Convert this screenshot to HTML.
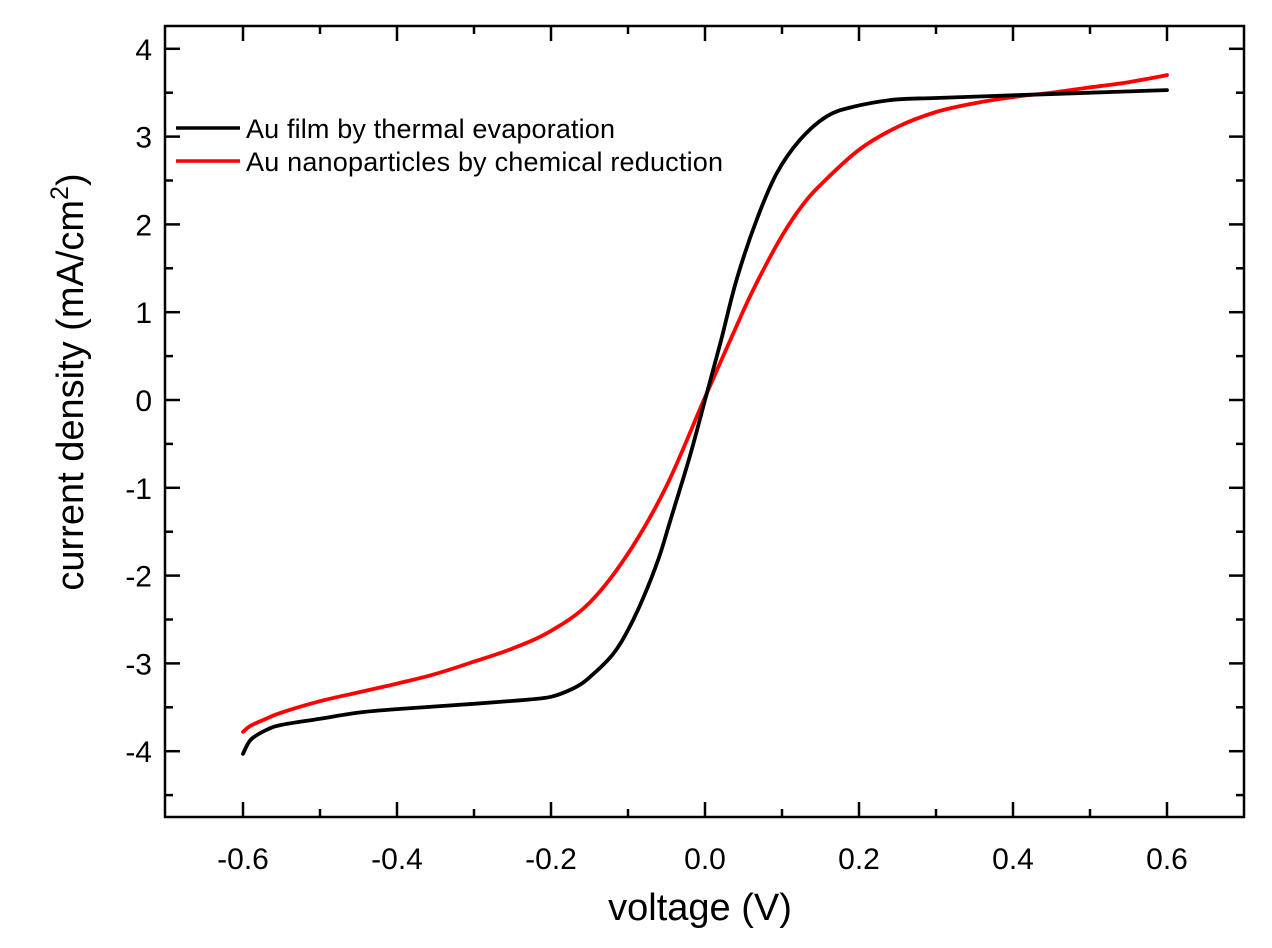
<!DOCTYPE html>
<html><head><meta charset="utf-8"><style>
html,body{margin:0;padding:0;background:#fff}
svg{display:block;font-family:"Liberation Sans",Arial,sans-serif}
</style></head><body>
<svg id="chart" width="1272" height="948">
<g id="axes"></g>
<g id="series"></g>
<g id="legend">
 <line x1="176" y1="128" x2="240" y2="128" stroke="#000" stroke-width="3.5"/>
 <text x="246" y="138" font-size="27" textLength="369">Au film by thermal evaporation</text>
 <line x1="176" y1="161" x2="240" y2="161" stroke="#f00" stroke-width="3.5"/>
 <text x="246" y="171" font-size="27" textLength="477">Au nanoparticles by chemical reduction</text>
</g>
<text x="700" y="920" font-size="38" text-anchor="middle">voltage (V)</text>
<text transform="translate(83,382) rotate(-90)" font-size="38" text-anchor="middle">current density (mA/cm<tspan dy="-15" font-size="25">2</tspan><tspan dy="15">)</tspan></text>
</svg>
<script>
const xTicks=[-0.6,-0.4,-0.2,0.0,0.2,0.4,0.6];
const xTickLabels=["-0.6","-0.4","-0.2","0.0","0.2","0.4","0.6"];
const yTicks=[-4,-3,-2,-1,0,1,2,3,4];
const yTickLabels=["-4","-3","-2","-1","0","1","2","3","4"];
const filmV=[-0.6,-0.59,-0.57,-0.55,-0.5,-0.45,-0.4,-0.3,-0.24,-0.2,-0.17,-0.15,-0.12,-0.1,-0.08,-0.06,-0.045,-0.02,0,0.02,0.041,0.067,0.093,0.123,0.158,0.193,0.245,0.3,0.4,0.5,0.6];
const filmJ=[-4.03,-3.87,-3.76,-3.7,-3.63,-3.56,-3.52,-3.46,-3.42,-3.38,-3.28,-3.16,-2.9,-2.62,-2.25,-1.8,-1.37,-0.65,0.0,0.65,1.37,2.05,2.58,2.96,3.23,3.34,3.42,3.44,3.47,3.5,3.53];
const npV=[-0.6,-0.59,-0.57,-0.55,-0.5,-0.45,-0.4,-0.35,-0.3,-0.25,-0.2,-0.15,-0.1,-0.05,0,0.05,0.075,0.1,0.125,0.15,0.2,0.25,0.3,0.35,0.4,0.45,0.5,0.55,0.6];
const npJ=[-3.78,-3.71,-3.63,-3.56,-3.43,-3.33,-3.23,-3.12,-2.98,-2.83,-2.63,-2.31,-1.75,-0.98,0.03,1.02,1.47,1.87,2.2,2.45,2.85,3.11,3.28,3.38,3.45,3.5,3.56,3.62,3.7];
const NS="http://www.w3.org/2000/svg";
const L=165,R=1244,T=26,B=817;
function xs(v){return 705+v*770;}
function ys(v){return 400-v*87.8;}
const axes=document.getElementById('axes');
function mk(tag,attrs,parent){const e=document.createElementNS(NS,tag);for(const k in attrs)e.setAttribute(k,attrs[k]);parent.appendChild(e);return e;}
const frame=mk('rect',{x:L,y:T,width:R-L,height:B-T,fill:'none',stroke:'#000','stroke-width':2.5},axes);


for(let i=0;i<xTicks.length;i++){
 const x=xs(xTicks[i]);
 mk('line',{x1:x,y1:B,x2:x,y2:B-15,stroke:'#000','stroke-width':2.5},axes);
 mk('line',{x1:x,y1:T,x2:x,y2:T+15,stroke:'#000','stroke-width':2.5},axes);
 const t=mk('text',{x:x,y:B+52,'font-size':30,'text-anchor':'middle'},axes);
 t.textContent=xTickLabels[i];
 
 
}
for(let v=-0.7;v<=0.71;v+=0.2){const x=xs(v);if(x<L+2||x>R-2)continue;
 mk('line',{x1:x,y1:B,x2:x,y2:B-8,stroke:'#000','stroke-width':2.5},axes);
 mk('line',{x1:x,y1:T,x2:x,y2:T+8,stroke:'#000','stroke-width':2.5},axes);}
for(let i=0;i<yTicks.length;i++){
 const y=ys(yTicks[i]);
 mk('line',{x1:L,y1:y,x2:L+15,y2:y,stroke:'#000','stroke-width':2.5},axes);
 mk('line',{x1:R,y1:y,x2:R-15,y2:y,stroke:'#000','stroke-width':2.5},axes);
 const t=mk('text',{x:L-13,y:y+11,'font-size':30,'text-anchor':'end'},axes);
 t.textContent=yTickLabels[i];
 
 
}
for(let v=-4.5;v<=4.01;v+=1){const y=ys(v);
 mk('line',{x1:L,y1:y,x2:L+8,y2:y,stroke:'#000','stroke-width':2.5},axes);
 mk('line',{x1:R,y1:y,x2:R-8,y2:y,stroke:'#000','stroke-width':2.5},axes);}
const ser=document.getElementById('series');
function line(V,J,c,name){
 const P=V.map((v,i)=>[xs(v),ys(J[i])]);
 let d='M'+P[0][0].toFixed(1)+','+P[0][1].toFixed(1);
 for(let i=0;i<P.length-1;i++){
  const p0=P[Math.max(0,i-1)],p1=P[i],p2=P[i+1],p3=P[Math.min(P.length-1,i+2)];
  const c1=[p1[0]+(p2[0]-p0[0])/6,p1[1]+(p2[1]-p0[1])/6];
  const c2=[p2[0]-(p3[0]-p1[0])/6,p2[1]-(p3[1]-p1[1])/6];
  d+='C'+c1[0].toFixed(1)+','+c1[1].toFixed(1)+' '+c2[0].toFixed(1)+','+c2[1].toFixed(1)+' '+p2[0].toFixed(1)+','+p2[1].toFixed(1);
 }
 const p=mk('path',{d:d,fill:'none',stroke:c,'stroke-width':3.8,'stroke-linejoin':'round','stroke-linecap':'round'},ser);
 
 
}
line(npV,npJ,'#f00','au-nanoparticles-curve');
line(filmV,filmJ,'#000','au-film-curve');
</script>
</body></html>
